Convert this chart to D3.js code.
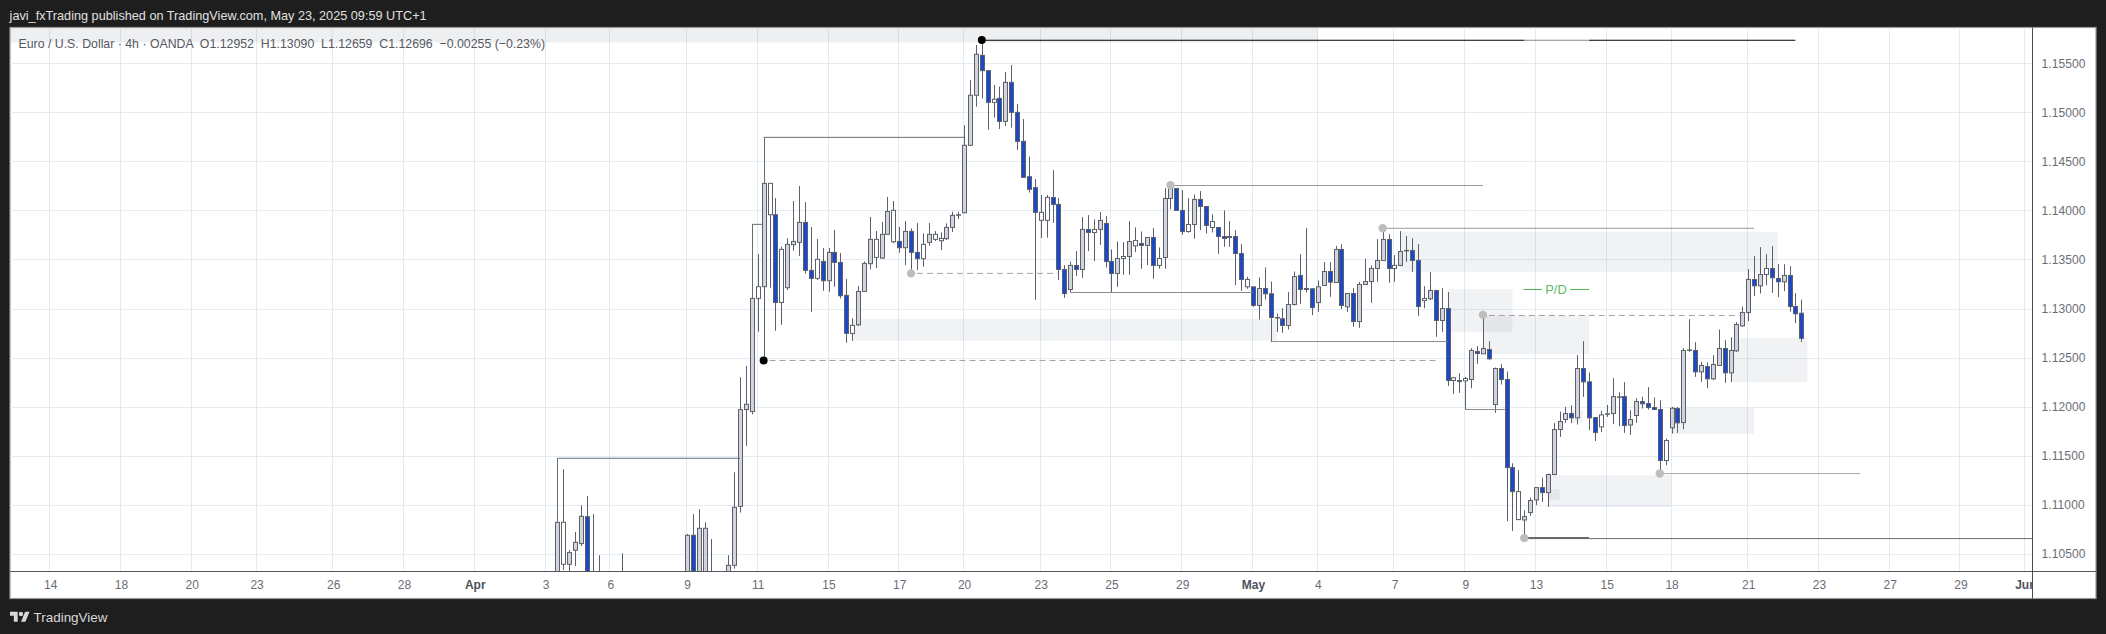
<!DOCTYPE html>
<html><head><meta charset="utf-8">
<script src="https://cdn.jsdelivr.net/npm/d3@7/dist/d3.min.js"></script>
<style>html,body{margin:0;padding:0;background:#1e1e1e}svg{display:block}text{font-family:"Liberation Sans",Arial,sans-serif}</style>
</head><body><svg id="c" width="2106" height="634"></svg>
<script>
const publishLine = "javi_fxTrading published on TradingView.com, May 23, 2025 09:59 UTC+1";
const legendLine = "Euro / U.S. Dollar · 4h · OANDA  O1.12952  H1.13090  L1.12659  C1.12696  −0.00255 (−0.23%)";
const brand = "TradingView";
const priceTicks = [1.105,1.11,1.115,1.12,1.125,1.13,1.135,1.14,1.145,1.15,1.155];
const timeTickBars = [-86,-74,-62,-51,-38,-26,-14,-2,9,22,34,46,58,69,82,94,106,118,129,142,154,166,178,189,202,214,226,238,249];
const timeTickLabels = ["14","18","20","23","26","28","Apr","3","6","9","11","15","17","20","23","25","29","May","4","7","9","13","15","18","21","23","27","29","Jun"];
const monthLabels = ["Apr","May","Jun"];
// candle colour class per bar: g grey, w white, b blue, . below the visible range
const kinds = "gwgggbgg.." + ".g........" + "..gbggg..g" + "ggggwgwbwg" + "ggbbwbgbbb" + "wgggwggwbg" + "bbwgwwggwg" + "ggbbwbgbbb" + "bbwwbbbgbg" + "bwgbbgwgwb" + "gbwggbbwgb" + "bwbbbbbwbg" + "bbwbggbbbg" + "gbgbgbgggg" + "gbwgwbbwgb" + "gbwbwgbgbg" + "bbbwgggbgg" + "ggbgbbbwwg" + "wbggbbbbwg" + "bgwbgbggbg" + "gggbgwbbgb" + "bb";
const opens = [1.10250,1.10392,1.10392,1.10535,1.10603,1.10878,1.10250,1.10250,null,null,
null,1.10250,null,null,null,null,null,null,null,null,
null,null,1.10250,1.10688,1.10250,1.10250,1.10250,null,null,1.10250,
1.10382,1.10983,1.11969,1.11949,1.13103,1.13222,1.13956,1.13956,1.13062,1.13212,
1.13650,1.13674,1.13878,1.13389,1.13307,1.13480,1.13283,1.13572,1.13470,1.13134,
1.12746,1.12834,1.13174,1.13457,1.13521,1.13514,1.13756,1.13681,1.13684,1.13620,
1.13786,1.13572,1.13508,1.13674,1.13705,1.13691,1.13712,1.13827,1.13956,1.13977,
1.14664,1.15174,1.15582,1.15425,1.15102,1.15143,1.14908,1.15306,1.15000,1.14704,
1.14344,1.14232,1.13899,1.13899,1.14132,1.14061,1.13398,1.13194,1.13439,1.13398,
1.13806,1.13775,1.13806,1.13867,1.13479,1.13357,1.13510,1.13530,1.13639,1.13663,
1.13643,1.13724,1.13439,1.13520,1.14122,1.14224,1.14000,1.13785,1.13857,1.14112,
1.14040,1.13826,1.13826,1.13734,1.13734,1.13734,1.13561,1.13221,1.13221,1.13031,
1.13204,1.13150,1.12908,1.12895,1.12827,1.13041,1.13337,1.13204,1.13201,1.13061,
1.13235,1.13377,1.13265,1.13602,1.13017,1.13153,1.12867,1.13245,1.13275,1.13408,
1.13490,1.13704,1.13408,1.13439,1.13592,1.13592,1.13490,1.13082,1.13099,1.13184,
1.12878,1.13000,1.12266,1.12266,1.12262,1.12276,1.12561,1.12538,1.12582,1.12021,
1.12388,1.12276,1.11378,1.10848,1.10844,1.10919,1.11048,1.11174,1.11123,1.11307,
1.11766,1.11868,1.11929,1.11885,1.12388,1.12252,1.11888,1.11793,1.11926,1.11929,
1.12099,1.12102,1.11813,1.11909,1.12051,1.12031,1.11990,1.11970,1.11450,1.11783,
1.11980,1.11837,1.12578,1.12572,1.12354,1.12408,1.12283,1.12419,1.12592,1.12344,
1.12568,1.12823,1.12959,1.13296,1.13231,1.13347,1.13408,1.13306,1.13272,1.13337,
1.13020,1.12952];
const highs = [1.10820,1.11361,1.10538,1.10722,1.10994,1.11089,1.10905,1.10484,null,null,
null,1.10504,null,null,null,null,null,null,null,null,
null,null,1.10701,1.10905,1.10953,1.10820,1.10650,null,null,1.10484,
1.11330,1.12299,1.12415,1.13103,1.13555,1.14276,1.14276,1.14126,1.13630,1.13715,
1.14096,1.14249,1.14086,1.13831,1.13708,1.13616,1.13616,1.13800,1.13565,1.13300,
1.12899,1.13229,1.13480,1.13933,1.13790,1.13882,1.14137,1.14096,1.13831,1.13892,
1.13817,1.13871,1.13766,1.13871,1.13790,1.13776,1.13868,1.13987,1.13987,1.14868,
1.15330,1.15687,1.15738,1.15425,1.15279,1.15262,1.15412,1.15483,1.15085,1.14932,
1.14548,1.14320,1.14157,1.14157,1.14411,1.14129,1.13442,1.13479,1.13585,1.13932,
1.13952,1.13908,1.13983,1.13942,1.13602,1.13683,1.13677,1.13891,1.13826,1.13785,
1.13724,1.13819,1.13622,1.14227,1.14261,1.14224,1.14207,1.14125,1.14163,1.14197,
1.14040,1.13959,1.13826,1.14000,1.13891,1.13799,1.13656,1.13323,1.13221,1.13316,
1.13418,1.13275,1.12949,1.13003,1.13167,1.13377,1.13554,1.13819,1.13207,1.13286,
1.13473,1.13473,1.13639,1.13656,1.13153,1.13207,1.13272,1.13507,1.13439,1.13707,
1.13819,1.13758,1.13544,1.13789,1.13738,1.13717,1.13656,1.13228,1.13371,1.13184,
1.13207,1.13167,1.12303,1.12340,1.12303,1.12595,1.12616,1.12932,1.12667,1.12398,
1.12432,1.12357,1.11422,1.11351,1.10943,1.11072,1.11174,1.11276,1.11317,1.11834,
1.11949,1.11997,1.12014,1.12524,1.12667,1.12347,1.11888,1.11956,1.12017,1.12289,
1.12147,1.12249,1.11963,1.12085,1.12099,1.12198,1.12092,1.12065,1.11674,1.11997,
1.11997,1.12595,1.12891,1.12657,1.12453,1.12449,1.12524,1.12786,1.12677,1.12708,
1.12861,1.13020,1.13401,1.13534,1.13626,1.13554,1.13636,1.13452,1.13452,1.13432,
1.13156,1.13090];
const lows = [1.10200,1.10334,1.10300,1.10375,1.10579,1.10200,1.10200,1.10200,null,null,
null,1.10200,null,null,null,null,null,null,null,null,
null,null,1.10200,1.10200,1.10200,1.10200,1.10200,null,null,1.10200,
1.10348,1.10919,1.11599,1.11920,1.12763,1.12491,1.13212,1.12773,1.12834,1.13188,
1.13589,1.13535,1.13358,1.12967,1.13290,1.13181,1.13171,1.13222,1.13103,1.12651,
1.12671,1.12821,1.13171,1.13399,1.13412,1.13508,1.13752,1.13664,1.13569,1.13443,
1.13358,1.13392,1.13426,1.13640,1.13688,1.13596,1.13698,1.13780,1.13912,1.13970,
1.14657,1.15058,1.15140,1.14823,1.14946,1.14830,1.14861,1.14844,1.14616,1.14337,
1.14181,1.13089,1.13718,1.13722,1.13874,1.13289,1.13109,1.13167,1.13330,1.13313,
1.13585,1.13483,1.13649,1.13418,1.13160,1.13221,1.13343,1.13343,1.13575,1.13405,
1.13442,1.13303,1.13405,1.13405,1.14013,1.13996,1.13751,1.13772,1.13711,1.13799,
1.13765,1.13775,1.13558,1.13629,1.13629,1.13238,1.13180,1.13201,1.13017,1.12888,
1.13092,1.12667,1.12759,1.12752,1.12786,1.13031,1.13048,1.13163,1.12932,1.12966,
1.13228,1.13119,1.13262,1.12993,1.12966,1.12813,1.12803,1.13245,1.13058,1.13272,
1.13486,1.13262,1.13272,1.13432,1.13476,1.13374,1.12925,1.13003,1.13085,1.12711,
1.12762,1.12211,1.12130,1.12140,1.11970,1.12187,1.12436,1.12538,1.12476,1.11936,
1.12225,1.10831,1.10732,1.10841,1.10661,1.10885,1.10994,1.11028,1.10977,1.11300,
1.11691,1.11834,1.11834,1.11817,1.12099,1.11759,1.11650,1.11739,1.11895,1.11820,
1.11800,1.11732,1.11711,1.11834,1.11980,1.11970,1.11970,1.11317,1.11402,1.11725,
1.11732,1.11769,1.12558,1.12303,1.12252,1.12187,1.12269,1.12415,1.12242,1.12249,
1.12558,1.12813,1.12871,1.13126,1.13153,1.13238,1.13160,1.13116,1.13177,1.12966,
1.12850,1.12659];
const closes = [1.10820,1.10820,1.10511,1.10616,1.10881,1.10250,1.10280,1.10280,null,null,
null,1.10280,null,null,null,null,null,null,null,null,
null,null,1.10688,1.10250,1.10759,1.10759,1.10280,null,null,1.10382,
1.10973,1.11969,1.12024,1.13103,1.13222,1.14276,1.14276,1.13062,1.13603,1.13654,
1.13684,1.13878,1.13389,1.13307,1.13501,1.13283,1.13572,1.13470,1.13130,1.12746,
1.12828,1.13174,1.13460,1.13705,1.13705,1.13756,1.13990,1.14001,1.13620,1.13786,
1.13572,1.13508,1.13654,1.13756,1.13756,1.13715,1.13827,1.13950,1.13956,1.14664,
1.15174,1.15592,1.15425,1.15102,1.15133,1.14908,1.15306,1.15000,1.14704,1.14337,
1.14215,1.13980,1.13980,1.14133,1.14061,1.13398,1.13153,1.13439,1.13398,1.13806,
1.13775,1.13806,1.13898,1.13479,1.13357,1.13510,1.13530,1.13683,1.13694,1.13643,
1.13724,1.13439,1.13510,1.14122,1.14224,1.14000,1.13785,1.13857,1.14112,1.14040,
1.13847,1.13887,1.13734,1.13714,1.13724,1.13561,1.13296,1.13296,1.13031,1.13204,
1.13150,1.12908,1.12908,1.12827,1.13041,1.13326,1.13194,1.13194,1.13010,1.13221,
1.13377,1.13269,1.13602,1.13031,1.13153,1.12867,1.13245,1.13275,1.13408,1.13490,
1.13704,1.13408,1.13439,1.13581,1.13592,1.13490,1.13020,1.13102,1.13184,1.12878,
1.13000,1.12266,1.12293,1.12255,1.12286,1.12572,1.12541,1.12592,1.12487,1.12388,
1.12276,1.11378,1.11133,1.11133,1.10878,1.11042,1.11174,1.11123,1.11307,1.11766,
1.11848,1.11929,1.11885,1.12388,1.12252,1.11885,1.11735,1.11915,1.11926,1.12102,
1.12099,1.11807,1.11868,1.12051,1.12028,1.11990,1.11970,1.11450,1.11654,1.11983,
1.11834,1.12572,1.12578,1.12354,1.12419,1.12283,1.12429,1.12592,1.12344,1.12572,
1.12837,1.12959,1.13296,1.13231,1.13347,1.13408,1.13313,1.13272,1.13337,1.13020,
1.12946,1.12696];
// shaded zones: [first bar, last bar, upper price, lower price]
const zones = [[-95,129,1.1620,1.15712],[50,122,1.12892,1.12671],[143,207,1.13782,1.13374],[151,162,1.13197,1.12759],[157,175,1.12925,1.12534],[168,189,1.11300,1.10977],[168,170,1.11157,1.11045],[172,174,1.11963,1.11834],[189,203,1.11987,1.11722],[199,212,1.12697,1.12249]];
// level lines: [first bar, last bar, price, style]
const levels = [[72,164,1.15735,"black"],[164,175,1.15735,"mid"],[175,210,1.15735,"black"],
[0,31,1.11473,"dark"],[35,69,1.14745,"dark"],[33,34.7,1.13858,"dark"],
[104,157,1.14254,"light"],[140,203,1.13818,"light"],[87,118,1.13163,"mid"],[121,151,1.12663,"mid"],[154,160.7,1.11970,"mid"],
[164,175,1.10661,"thick"],[164,260,1.10654,"dark"],[187,221,1.11317,"pale"],
[36,149.5,1.12470,"dash"],[61,85,1.13358,"dash"],[158,201,1.12929,"dash"]];
const stems = [[0,1.11473,1.10820],[35,1.14745,1.14276],[33,1.13858,1.13103],[121,1.12908,1.12663]];
const blackDots = [[72,1.15738],[35,1.12470]];
const greyDots = [[60,1.13358],[104,1.14258],[140,1.13819],[157,1.12935],[164,1.10661],[187,1.11317]];
const pdLabel = {text:"P/D",price:1.13194,from:163.9,to:175,textFrom:167,textTo:171.8};

const svg = d3.select("#c");
const x = d3.scaleLinear().domain([0,211]).range([557.3,1801.3]);
const y = d3.scaleLinear().domain([1.105,1.155]).range([553.7,63.3]);
const L=10,T=27.5,R=2032.5,B=571.5,FR=2096,FB=598.5;

svg.append("rect").attr("width",2106).attr("height",634).attr("fill","#1e1e1e");
svg.append("rect").attr("x",L).attr("y",T).attr("width",FR-L).attr("height",FB-T).attr("fill","#fff").attr("stroke","#999").attr("stroke-width",1.2);
const defs = svg.append("defs");
defs.append("clipPath").attr("id","plot").append("rect").attr("x",L).attr("y",T).attr("width",R-L).attr("height",B-T);
defs.append("clipPath").attr("id","tx").append("rect").attr("x",L).attr("y",B).attr("width",R-L).attr("height",FB-B);

const plot = svg.append("g").attr("clip-path","url(#plot)");
// grid
plot.append("g").selectAll("line").data(timeTickBars).join("line")
 .attr("x1",d=>Math.round(x(d))-.5).attr("x2",d=>Math.round(x(d))-.5).attr("y1",T).attr("y2",B).attr("stroke","#e1ebf2").attr("stroke-width",1);
plot.append("g").selectAll("line").data(priceTicks).join("line")
 .attr("x1",L).attr("x2",R).attr("y1",d=>Math.round(y(d))+.5).attr("y2",d=>Math.round(y(d))+.5).attr("stroke","#e4edf3").attr("stroke-width",1);
// zones
plot.append("g").selectAll("rect").data(zones).join("rect")
 .attr("x",d=>x(d[0])).attr("width",d=>x(d[1])-x(d[0])).attr("y",d=>y(d[2])).attr("height",d=>y(d[3])-y(d[2]))
 .attr("fill",(d,i)=>i===0?"rgba(120,128,150,0.13)":"rgba(120,128,150,0.1)");
// candles
const bars = d3.range(kinds.length).filter(i=>kinds[i]!==".");
const fills = {g:"#d1d4dc",w:"#ffffff",b:"#1848cc"};
plot.append("g").selectAll("line").data(bars).join("line")
 .attr("x1",i=>Math.round(x(i))+.5).attr("x2",i=>Math.round(x(i))+.5).attr("y1",i=>y(highs[i])).attr("y2",i=>y(lows[i]))
 .attr("stroke","#5d606b").attr("stroke-width",1);
plot.append("g").selectAll("rect").data(bars).join("rect")
 .attr("x",i=>Math.round(x(i))-1.5).attr("width",4)
 .attr("y",i=>y(Math.max(opens[i],closes[i]))).attr("height",i=>Math.max(0.5,Math.abs(y(opens[i])-y(closes[i]))))
 .attr("fill",i=>fills[kinds[i]]).attr("stroke","#5d606b").attr("stroke-width",1);
// levels
const styles = {black:["#000",1.2,null],mid:["#8c8c8c",1,null],dark:["#696c75",1,null],light:["#8f8f8f",.9,null],thick:["#666",2,null],pale:["#aaa",1,null],dash:["#a3a3a3",1,"6 4"]};
plot.append("g").selectAll("line").data(levels).join("line")
 .attr("x1",d=>x(d[0])).attr("x2",d=>x(d[1])).attr("y1",d=>y(d[2])).attr("y2",d=>y(d[2]))
 .attr("stroke",d=>styles[d[3]][0]).attr("stroke-width",d=>styles[d[3]][1]).attr("stroke-dasharray",d=>styles[d[3]][2]);
plot.append("g").selectAll("line").data(stems).join("line")
 .attr("x1",d=>Math.round(x(d[0]))+.5).attr("x2",d=>Math.round(x(d[0]))+.5).attr("y1",d=>y(d[1])).attr("y2",d=>y(d[2]))
 .attr("stroke","#696c75").attr("stroke-width",1);
plot.append("g").selectAll("circle").data(greyDots).join("circle")
 .attr("cx",d=>x(d[0])).attr("cy",d=>y(d[1])).attr("r",4.2).attr("fill","#bdbdbd");
plot.append("g").selectAll("circle").data(blackDots).join("circle")
 .attr("cx",d=>x(d[0])).attr("cy",d=>y(d[1])).attr("r",4).attr("fill","#000");
// P/D
plot.append("line").attr("x1",x(pdLabel.from)).attr("x2",x(pdLabel.textFrom)).attr("y1",y(pdLabel.price)).attr("y2",y(pdLabel.price)).attr("stroke","#4caf50");
plot.append("line").attr("x1",x(pdLabel.textTo)).attr("x2",x(pdLabel.to)).attr("y1",y(pdLabel.price)).attr("y2",y(pdLabel.price)).attr("stroke","#4caf50");
plot.append("text").attr("x",x((pdLabel.textFrom+pdLabel.textTo)/2)).attr("y",y(pdLabel.price)).attr("dy","0.36em").attr("text-anchor","middle").attr("font-size",13).attr("fill","#5fbb66").text(pdLabel.text);
// axes lines
svg.append("line").attr("x1",L).attr("x2",FR).attr("y1",B).attr("y2",B).attr("stroke","#55575f").attr("stroke-width",1);
svg.append("line").attr("x1",R).attr("x2",R).attr("y1",T).attr("y2",FB).attr("stroke","#4a4d55").attr("stroke-width",1);
// price axis
const ya = svg.append("g").attr("transform",`translate(${R},0)`).call(d3.axisRight(y).tickValues(priceTicks).tickSize(0).tickPadding(9).tickFormat(d3.format(".5f")));
ya.select(".domain").remove();
ya.selectAll("text").attr("font-size",12).attr("fill","#6a6d78").attr("font-family","'Liberation Sans',sans-serif").attr("letter-spacing",".1");
// time axis
const xa = svg.append("g").attr("clip-path","url(#tx)").append("g").attr("transform",`translate(0,${B})`).call(d3.axisBottom(x).tickValues(timeTickBars).tickSize(0).tickPadding(9).tickFormat((d,i)=>timeTickLabels[i]));
xa.select(".domain").remove();
xa.selectAll("text").attr("font-size",12).attr("font-family","'Liberation Sans',sans-serif").attr("fill",(d,i)=>monthLabels.includes(timeTickLabels[i])?"#4f525c":"#6a6d78").attr("font-weight",(d,i)=>monthLabels.includes(timeTickLabels[i])?700:400);
// texts
svg.append("text").attr("x",9.6).attr("y",20).attr("font-size",13).attr("fill","#e0e0e0").attr("textLength",417).attr("lengthAdjust","spacingAndGlyphs").text(publishLine);
svg.append("text").attr("x",18.5).attr("y",47.5).attr("font-size",13).attr("fill","#55585f").attr("textLength",526.5).attr("lengthAdjust","spacingAndGlyphs").style("white-space","pre").text(legendLine);
// logo
const logo = svg.append("g").attr("transform","translate(10,609.6) scale(0.55)").attr("fill","#d8d8d8");
logo.append("path").attr("d","M14 22H7V11H0V4h14v18zM28 22h-8l7.5-18h8L28 22z");
logo.append("circle").attr("cx",20).attr("cy",8).attr("r",4);
svg.append("text").attr("x",33.5).attr("y",621.5).attr("font-size",13).attr("font-family","Inter,sans-serif").attr("fill","#d8d8d8").attr("textLength",74).attr("lengthAdjust","spacingAndGlyphs").text(brand);
</script></body></html>
